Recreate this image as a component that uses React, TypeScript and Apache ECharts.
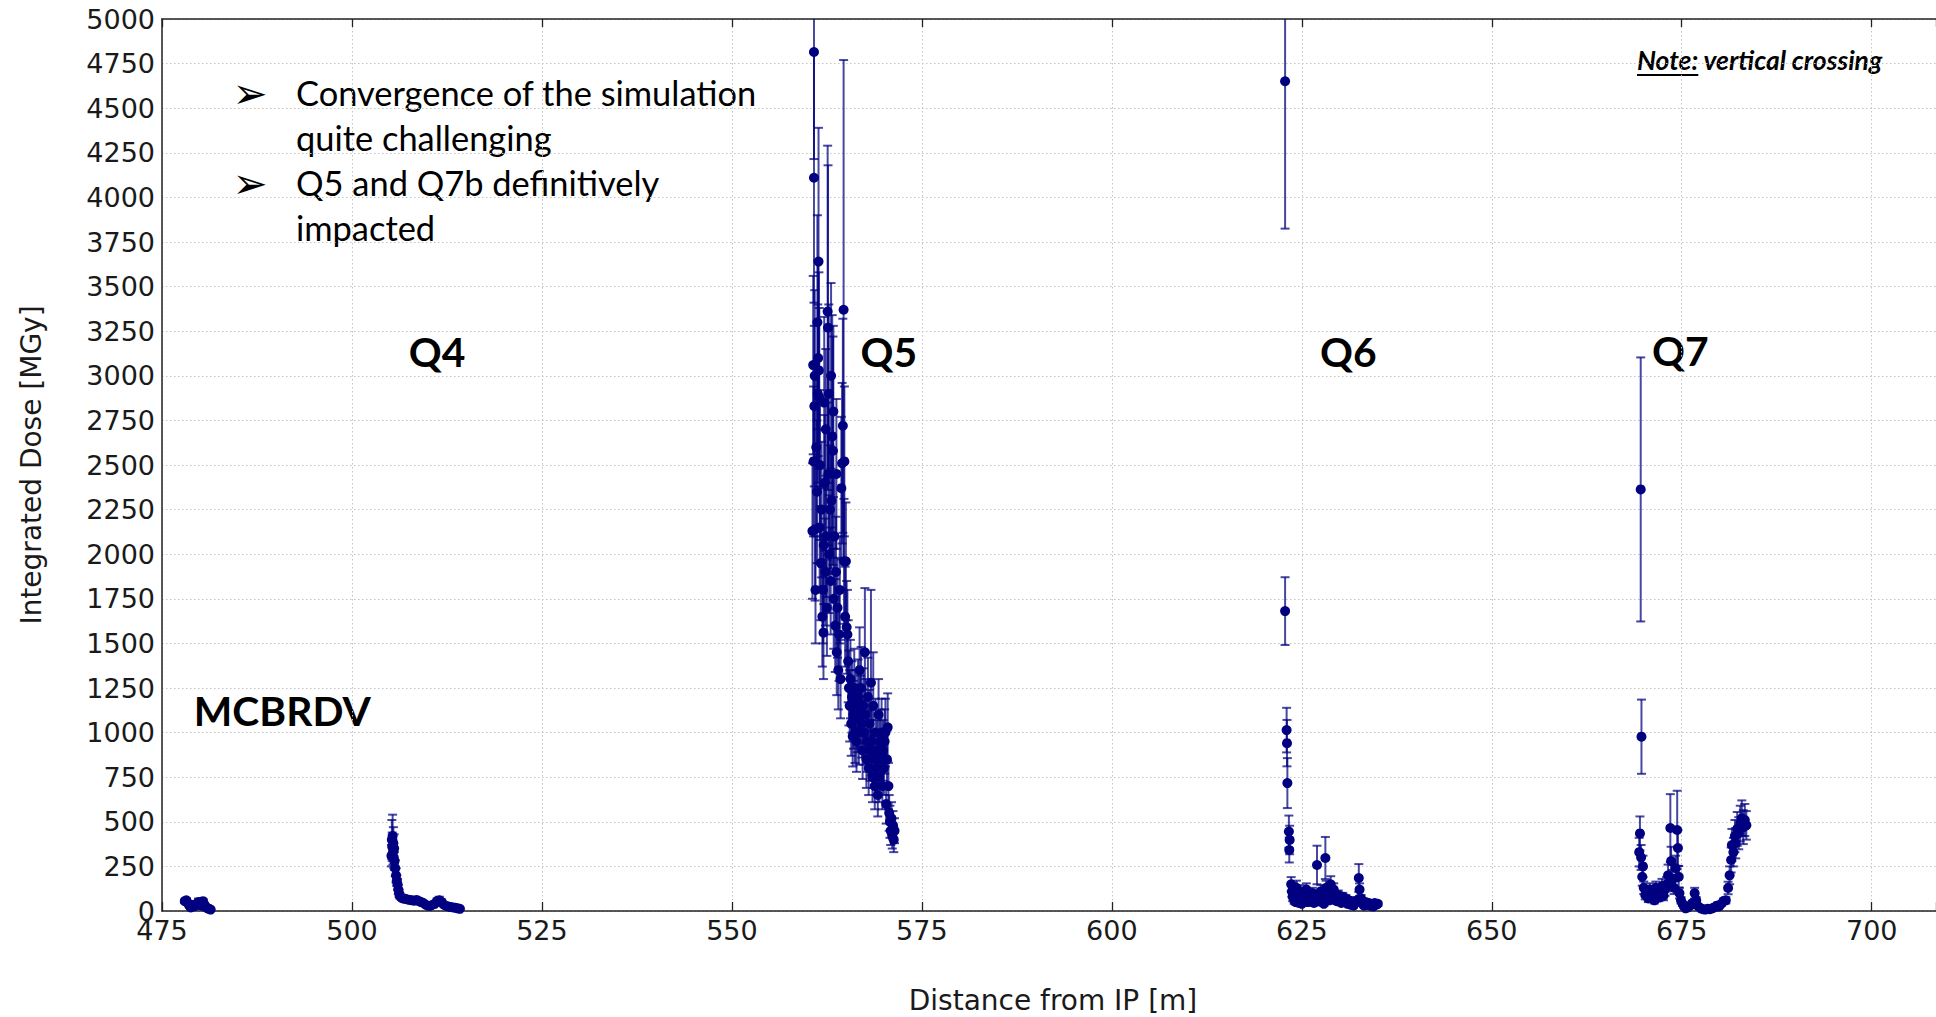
import React, { useEffect, useRef } from "react";
import * as echarts from "echarts";

// [distance from IP (m), integrated dose (MGy), error (MGy)]
const mcbrdv: number[][] = [
  [478.0, 55, 10], [478.2, 60, 12], [478.4, 45, 10], [478.6, 30, 8], [478.8, 20, 6],
  [479.0, 25, 8], [479.2, 35, 10], [479.4, 28, 8], [479.6, 40, 12], [479.8, 50, 20],
  [480.0, 45, 15], [480.2, 30, 10], [480.4, 55, 12], [480.6, 35, 10], [480.8, 20, 8],
  [481.0, 15, 6], [481.2, 12, 5], [481.4, 8, 4],
];

const q4: number[][] = [
  [505.2, 310, 60], [505.25, 400, 110], [505.3, 360, 80], [505.35, 420, 120], [505.4, 330, 70],
  [505.45, 380, 90], [505.5, 300, 60], [505.55, 350, 80], [505.6, 280, 50], [505.7, 240, 45],
  [505.8, 200, 40], [505.9, 170, 30], [506.0, 150, 30], [506.1, 120, 25], [506.2, 100, 20],
  [506.3, 85, 15], [506.5, 75, 12], [506.7, 70, 10], [507.0, 68, 10], [507.3, 65, 10],
  [507.6, 62, 10], [507.9, 60, 10], [508.2, 58, 10], [508.5, 62, 12], [508.8, 55, 10],
  [509.1, 50, 10], [509.4, 45, 8], [509.7, 35, 8], [510.0, 30, 8], [510.3, 28, 8],
  [510.6, 35, 10], [510.9, 40, 10], [511.2, 55, 15], [511.5, 60, 20], [511.8, 50, 15],
  [512.1, 35, 10], [512.4, 28, 8], [512.7, 25, 8], [513.0, 22, 6], [513.3, 20, 6],
  [513.6, 18, 5], [513.9, 15, 5], [514.2, 12, 4],
];

const q5: number[][] = [
  [560.6, 2130, 380], [560.7, 3060, 500], [560.75, 2520, 420], [560.8, 4815, 600], [560.8, 4110, 700],
  [560.85, 2830, 450], [560.9, 3000, 480], [560.95, 2140, 400], [561.0, 1800, 300], [561.1, 2600, 450],
  [561.2, 2350, 400], [561.25, 3300, 600], [561.3, 2900, 500], [561.35, 3100, 550], [561.4, 3640, 750],
  [561.45, 3030, 550], [561.5, 2880, 500], [561.55, 2150, 350], [561.6, 2500, 420], [561.7, 1950, 320],
  [561.8, 2250, 380], [561.9, 1650, 280], [562.0, 1800, 300], [562.05, 1560, 260], [562.1, 2050, 330],
  [562.15, 2850, 480], [562.2, 2400, 380], [562.3, 1900, 300], [562.35, 2700, 450], [562.4, 2100, 340],
  [562.5, 1700, 270], [562.6, 3360, 930], [562.65, 3270, 910], [562.7, 2450, 400], [562.75, 2900, 500],
  [562.8, 2000, 330], [562.9, 2250, 360], [563.0, 1850, 300], [563.05, 3000, 520], [563.1, 2300, 380],
  [563.2, 2660, 680], [563.3, 2580, 640], [563.35, 2800, 480], [563.4, 1750, 280], [563.5, 2100, 340],
  [563.6, 1600, 260], [563.7, 1900, 310], [563.75, 2450, 420], [563.8, 1450, 240], [563.9, 1700, 280],
  [564.0, 1350, 220], [564.1, 1550, 260], [564.2, 1800, 300], [564.3, 1300, 220], [564.4, 2370, 400],
  [564.5, 2510, 450], [564.6, 2720, 600], [564.7, 3370, 1400], [564.75, 1960, 350], [564.8, 2520, 420],
  [564.9, 1650, 280], [565.0, 1960, 330], [565.1, 1590, 260], [565.2, 1550, 250], [565.3, 1400, 230],
  [565.4, 1250, 210], [565.5, 1150, 200], [565.6, 1300, 220], [565.7, 1050, 180], [565.8, 1200, 200],
  [565.9, 980, 170], [566.0, 1100, 190], [566.1, 1250, 220], [566.2, 1000, 170], [566.3, 1150, 200],
  [566.4, 950, 170], [566.5, 1080, 190], [566.6, 1200, 210], [566.7, 1000, 180], [566.8, 1350, 240],
  [566.9, 1120, 200], [567.0, 1250, 230], [567.1, 1050, 190], [567.2, 900, 160], [567.3, 1150, 210],
  [567.4, 1000, 180], [567.5, 1450, 360], [567.6, 1100, 200], [567.7, 850, 160], [567.8, 950, 170],
  [567.9, 1200, 220], [568.0, 800, 150], [568.1, 1050, 190], [568.2, 900, 170], [568.3, 1280, 520],
  [568.4, 950, 180], [568.5, 750, 140], [568.6, 1150, 300], [568.7, 850, 160], [568.8, 700, 130],
  [568.9, 1000, 190], [569.0, 800, 150], [569.1, 900, 170], [569.2, 650, 120], [569.3, 1100, 200],
  [569.4, 750, 140], [569.5, 950, 180], [569.6, 850, 160], [569.7, 1000, 190], [569.8, 700, 130],
  [569.9, 900, 170], [570.0, 800, 150], [570.1, 950, 180], [570.2, 1000, 190], [570.3, 600, 110],
  [570.4, 850, 160], [570.5, 1030, 190], [570.6, 700, 130], [570.7, 550, 100], [570.8, 500, 90],
  [570.9, 450, 80], [571.0, 520, 90], [571.1, 420, 70], [571.2, 480, 80], [571.3, 400, 70],
  [571.4, 450, 70],
];

const q6: number[][] = [
  [622.8, 4651, 826], [622.8, 1681, 190], [623.0, 1014, 125], [623.05, 941, 130], [623.1, 717, 140],
  [623.3, 445, 90], [623.35, 342, 70], [623.4, 398, 80], [623.6, 150, 40], [623.7, 110, 30],
  [623.8, 80, 25], [623.9, 120, 35], [624.0, 60, 20], [624.1, 90, 25], [624.2, 50, 15],
  [624.3, 130, 40], [624.4, 70, 20], [624.5, 100, 30], [624.6, 45, 15], [624.7, 80, 25],
  [624.8, 110, 35], [624.9, 55, 15], [625.0, 40, 12], [625.2, 90, 25], [625.4, 65, 20],
  [625.6, 120, 35], [625.8, 50, 15], [626.0, 85, 25], [626.2, 60, 18], [626.4, 100, 30],
  [626.6, 45, 15], [626.8, 70, 20], [627.0, 258, 108], [627.1, 90, 25], [627.3, 55, 15],
  [627.5, 110, 35], [627.7, 75, 20], [627.9, 40, 12], [628.1, 297, 118], [628.2, 130, 40],
  [628.4, 85, 25], [628.6, 60, 18], [628.8, 150, 45], [629.0, 95, 28], [629.2, 120, 35],
  [629.4, 70, 20], [629.6, 55, 15], [629.8, 90, 25], [630.0, 65, 18], [630.2, 45, 12],
  [630.4, 80, 22], [630.6, 55, 15], [630.8, 70, 20], [631.0, 40, 12], [631.2, 60, 18],
  [631.4, 35, 10], [631.6, 50, 15], [631.8, 30, 10], [632.0, 45, 12], [632.3, 60, 18],
  [632.5, 185, 78], [632.6, 120, 35], [632.8, 70, 20], [633.0, 40, 12], [633.2, 30, 10],
  [633.4, 50, 15], [633.6, 35, 10], [633.8, 45, 12], [634.0, 30, 10], [634.2, 40, 12],
  [634.4, 25, 8], [634.6, 45, 12], [634.8, 35, 10], [635.0, 40, 12],
];

const q7: number[][] = [
  [669.4, 330, 80], [669.5, 435, 95], [669.6, 2363, 740], [669.7, 977, 208], [669.65, 300, 70],
  [669.8, 192, 50], [669.9, 250, 60], [670.0, 130, 35], [670.2, 90, 25], [670.4, 110, 30],
  [670.6, 70, 20], [670.8, 120, 35], [671.0, 80, 22], [671.2, 100, 30], [671.4, 60, 18],
  [671.6, 130, 35], [671.8, 90, 25], [672.0, 75, 20], [672.2, 110, 30], [672.4, 140, 40],
  [672.6, 85, 25], [672.8, 120, 35], [673.0, 150, 40], [673.2, 200, 60], [673.5, 465, 190],
  [673.6, 280, 80], [673.8, 180, 50], [674.0, 130, 35], [674.2, 240, 70], [674.4, 454, 220],
  [674.5, 353, 100], [674.6, 192, 60], [674.7, 100, 30], [674.9, 60, 18], [675.1, 40, 12],
  [675.3, 25, 8], [675.5, 15, 6], [675.8, 20, 6], [676.1, 30, 10], [676.4, 45, 12],
  [676.7, 100, 30], [676.9, 60, 18], [677.2, 25, 8], [677.5, 15, 5], [677.8, 10, 4],
  [678.1, 8, 4], [678.4, 12, 4], [678.7, 10, 4], [679.0, 15, 5], [679.3, 20, 6],
  [679.6, 30, 8], [679.9, 25, 8], [680.2, 40, 12], [680.5, 55, 15], [680.8, 60, 18],
  [681.1, 129, 35], [681.3, 200, 50], [681.5, 286, 70], [681.6, 370, 90], [681.8, 330, 80],
  [682.0, 420, 90], [682.1, 380, 85], [682.3, 460, 95], [682.5, 436, 90], [682.7, 490, 100],
  [682.9, 520, 100], [683.1, 470, 95], [683.3, 510, 90], [683.5, 480, 80],
];

const xTitle = "Distance from IP [m]";
const yTitle = "Integrated Dose [MGy]";
const bulletLines = ["Convergence of the simulation", "quite challenging", "Q5 and Q7b definitively", "impacted"];
const magnetLabels = ["MCBRDV", "Q4", "Q5", "Q6", "Q7"];
const noteText = "Note: vertical crossing";
const noteHead = "Note:";

const AXIS_FONT = "DejaVu Sans";
const ANNOT_FONT = "Lato";

function measure(text: string, font: string): number {
  const c = document.createElement("canvas").getContext("2d");
  if (!c) return text.length * 10;
  c.font = font;
  return c.measureText(text).width;
}
function fitSize(text: string, style: string, weight: string, family: string, target: number): number {
  const w = measure(text, `${style} ${weight} 100px "${family}"`);
  return (100 * target) / w;
}

export default function App() {
  const ref = useRef<HTMLDivElement>(null);
  useEffect(() => {
    if (!ref.current) return;
    const chart = echarts.init(ref.current, undefined, { renderer: "svg" });
    const all = [...mcbrdv, ...q4, ...q5, ...q6, ...q7];

    const bulletSize = fitSize(bulletLines[0], "normal", "normal", ANNOT_FONT, 461);
    const labelSize = fitSize(magnetLabels[0], "normal", "bold", ANNOT_FONT, 177);
    const noteSize = fitSize(noteText, "italic", "bold", ANNOT_FONT, 246);
    const noteHeadW = measure(noteHead, `italic bold ${noteSize}px "${ANNOT_FONT}"`);
    const arrowSize = 42;

    const bulletMiddles = [92, 137, 182.5, 227];
    const labelPos: [number, number][] = [
      [193.8, 710.5], [408.7, 351], [860.6, 351], [1320, 351], [1652, 350.5],
    ];

    const graphics: any[] = [];
    bulletLines.forEach((t, i) => {
      graphics.push({
        type: "text", x: 296, y: bulletMiddles[i], silent: true,
        style: { text: t, font: `normal ${bulletSize}px "${ANNOT_FONT}"`, fill: "#000", align: "left", verticalAlign: "middle" },
      });
    });
    [93.5, 183.5].forEach((y) => {
      graphics.push({
        type: "text", x: 250, y, silent: true,
        style: { text: "➢", font: `normal ${arrowSize}px "DejaVu Sans"`, fill: "#000", align: "center", verticalAlign: "middle" },
      });
    });
    magnetLabels.forEach((t, i) => {
      graphics.push({
        type: "text", x: labelPos[i][0], y: labelPos[i][1], silent: true,
        style: { text: t, font: `bold ${labelSize}px "${ANNOT_FONT}"`, fill: "#000", align: "left", verticalAlign: "middle" },
      });
    });
    graphics.push({
      type: "text", x: 1637, y: 70 - 0.36 * noteSize, silent: true,
      style: { text: noteText, font: `italic bold ${noteSize}px "${ANNOT_FONT}"`, fill: "#000", align: "left", verticalAlign: "middle" },
    });
    graphics.push({
      type: "line", silent: true,
      shape: { x1: 1637, y1: 75, x2: 1637 + noteHeadW, y2: 75 },
      style: { stroke: "#000", lineWidth: 2 },
    });
    graphics.push({
      type: "text", x: 1053, y: 1000, silent: true,
      style: { text: xTitle, font: `normal 28px "${AXIS_FONT}"`, fill: "#1a1a1a", align: "center", verticalAlign: "middle" },
    });
    graphics.push({
      type: "text", x: 31, y: 465, rotation: Math.PI / 2, silent: true,
      style: { text: yTitle, font: `normal 28px "${AXIS_FONT}"`, fill: "#1a1a1a", align: "center", verticalAlign: "middle" },
    });

    const xMin = 475;
    const xMax = 708.46;
    const gridLine = { show: true, lineStyle: { color: "#c4c4c4", width: 1, type: [1.5, 2.5] as any } };
    const axisLineStyle = { color: "#222", width: 1.5 };
    const errColor = "rgba(0,0,128,0.72)";

    chart.setOption({
      animation: false,
      backgroundColor: "#fff",
      grid: { left: 162, right: 0, top: 19, bottom: 106, containLabel: false, outerBoundsMode: "none" } as any,
      xAxis: [
        {
          type: "value", min: xMin, max: xMax, interval: 25, position: "bottom",
          axisLine: { show: true, onZero: false, lineStyle: axisLineStyle },
          axisTick: { show: true, inside: true, length: 9, lineStyle: { color: "#222", width: 1.3 } },
          axisLabel: {
            show: true, margin: 6, fontSize: 27, fontFamily: AXIS_FONT, color: "#1a1a1a",
            formatter: (v: number) => (Math.abs(v / 25 - Math.round(v / 25)) < 1e-6 ? String(Math.round(v)) : ""),
          },
          splitLine: gridLine,
        },
        {
          type: "value", min: xMin, max: xMax, interval: 25, position: "top",
          axisLine: { show: true, onZero: false, lineStyle: axisLineStyle },
          axisTick: { show: true, inside: true, length: 8, lineStyle: { color: "#222", width: 1.3 } },
          axisLabel: { show: false },
          splitLine: { show: false },
        },
      ],
      yAxis: {
        type: "value", min: 0, max: 5000, interval: 250,
        axisLine: { show: true, onZero: false, lineStyle: axisLineStyle },
        axisTick: { show: false },
        axisLabel: {
          show: true, margin: 7, fontSize: 27, fontFamily: AXIS_FONT, color: "#1a1a1a",
          formatter: (v: number) => String(Math.round(v)),
        },
        splitLine: gridLine,
      },
      series: [
        {
          type: "custom",
          xAxisIndex: 0,
          clip: true,
          z: 1,
          encode: { x: 0, y: 1 },
          data: all,
          renderItem: (params: any, api: any) => {
            const x = api.value(0);
            const y = api.value(1);
            const e = api.value(2);
            const top = api.coord([x, y + e]);
            const bot = api.coord([x, y - e]);
            const w = 4.5;
            const st = { stroke: errColor, lineWidth: 2 };
            return {
              type: "group",
              children: [
                { type: "line", shape: { x1: top[0], y1: top[1], x2: bot[0], y2: bot[1] }, style: st },
                { type: "line", shape: { x1: top[0] - w, y1: top[1], x2: top[0] + w, y2: top[1] }, style: st },
                { type: "line", shape: { x1: bot[0] - w, y1: bot[1], x2: bot[0] + w, y2: bot[1] }, style: st },
              ],
            };
          },
        },
        {
          type: "scatter",
          xAxisIndex: 0,
          z: 2,
          clip: true,
          symbol: "circle",
          symbolSize: 10,
          itemStyle: { color: "#000080", opacity: 1 },
          emphasis: { disabled: true },
          data: all.map((d) => [d[0], d[1]]),
        },
      ],
      graphic: graphics,
    });
    return () => chart.dispose();
  }, []);
  return (
    <div
      ref={ref}
      style={{ position: "absolute", left: 0, top: 0, width: 1936, height: 1017, background: "#fff" }}
    />
  );
}
